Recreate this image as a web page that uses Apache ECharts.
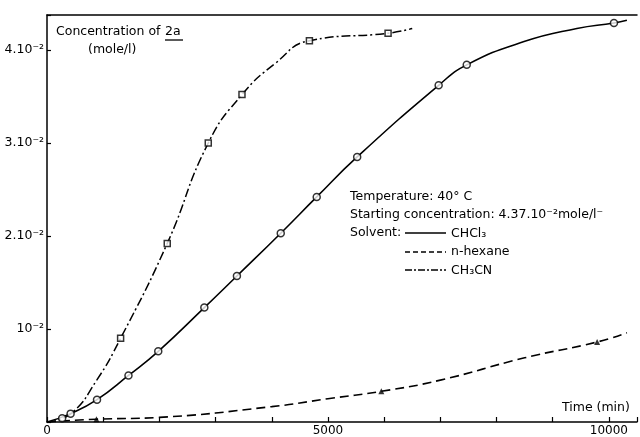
<!DOCTYPE html>
<html>
<head>
<meta charset="utf-8">
<script src="https://cdn.jsdelivr.net/npm/echarts@6/dist/echarts.min.js"></script>
<style>html,body{margin:0;padding:0;background:#fff}#c{width:640px;height:437px}</style>
</head>
<body>
<div id="c"></div>
<script>
// Time (min)
var xTicks = [0, 5000, 10000];
var yTickLabels = ['', '10⁻²', '2.10⁻²', '3.10⁻²', '4.10⁻²'];

// CHCl3 (solid, open circles) — values in units of 1e-2 mole/l
var chclCurveX = [0, 420, 890, 1450, 1980, 2800, 3380, 4160, 4800, 5520, 6970, 7470, 8490, 9430, 10090, 10320];
var chclCurveY = [0, 0.09, 0.24, 0.50, 0.76, 1.23, 1.57, 2.03, 2.42, 2.85, 3.62, 3.84, 4.09, 4.23, 4.29, 4.32];
var chclMarkX = [270, 420, 890, 1450, 1980, 2800, 3380, 4160, 4800, 5520, 6970, 7470, 10090];
var chclMarkY = [0.04, 0.09, 0.24, 0.50, 0.76, 1.23, 1.57, 2.03, 2.42, 2.85, 3.62, 3.84, 4.29];

// n-hexane (dashed, filled triangles)
var hexCurveX = [0, 880, 2000, 4000, 5000, 5950, 7000, 8500, 9790, 10320];
var hexCurveY = [0, 0.03, 0.05, 0.165, 0.25, 0.33, 0.45, 0.69, 0.86, 0.96];
var hexMarkX = [880, 5950, 9790];
var hexMarkY = [0.03, 0.33, 0.86];

// CH3CN (dash-dot, open squares)
var ch3cnCurveX = [0, 425, 885, 1310, 2140, 2870, 3470, 4070, 4670, 6070, 6500];
var ch3cnCurveY = [0, 0.09, 0.45, 0.90, 1.92, 3.00, 3.52, 3.86, 4.10, 4.18, 4.23];
var ch3cnMarkX = [1310, 2140, 2870, 3470, 4670, 6070];
var ch3cnMarkY = [0.90, 1.92, 3.00, 3.52, 4.10, 4.18];

function zip(a, b) { return a.map(function (v, i) { return [v, b[i]]; }); }

var FONT = 'DejaVu Sans';
var TF = '12.5px "DejaVu Sans"';
var chart = echarts.init(document.getElementById('c'), null, {renderer: 'canvas'});

chart.setOption({
  animation: false,
  backgroundColor: '#fff',
  grid: {left: 47, right: 0, top: 15, bottom: 15, containLabel: false},
  xAxis: [{
    type: 'value', min: 0, max: 10500, interval: 1000,
    axisLine: {show: true, lineStyle: {color: '#000', width: 1.5}},
    axisTick: {show: true, inside: true, length: 5, lineStyle: {color: '#000', width: 1.2}},
    axisLabel: {
      color: '#000', fontFamily: FONT, fontSize: 12, margin: 3,
      formatter: function (v) { return xTicks.indexOf(v) >= 0 ? String(v) : ''; }
    },
    splitLine: {show: false}
  }, {
    type: 'value', position: 'top', min: 0, max: 10500,
    axisLine: {show: true, lineStyle: {color: '#000', width: 1.5}},
    axisTick: {show: false}, axisLabel: {show: false}, splitLine: {show: false}
  }],
  yAxis: {
    type: 'value', min: 0, max: 4.376, interval: 1,
    axisLine: {show: true, lineStyle: {color: '#000', width: 1.5}},
    axisTick: {show: true, inside: true, length: 4, lineStyle: {color: '#000', width: 1.2}},
    axisLabel: {
      color: '#000', fontFamily: FONT, fontSize: 12.5, margin: 3,
      formatter: function (v) { return (Math.abs(v - Math.round(v)) < 1e-6 && yTickLabels[Math.round(v)]) || ''; }
    },
    splitLine: {show: false}
  },
  series: [
    {type: 'line', data: zip(chclCurveX, chclCurveY), smooth: 0.5, showSymbol: false,
     lineStyle: {color: '#000', width: 1.6}, z: 2},
    {type: 'scatter', data: zip(chclMarkX, chclMarkY), symbol: 'circle', symbolSize: 7,
     itemStyle: {color: '#fff', borderColor: '#000', borderWidth: 1.5}, z: 3},
    {type: 'line', data: zip(hexCurveX, hexCurveY), smooth: 0.5, showSymbol: false,
     lineStyle: {color: '#000', width: 1.6, type: [9, 5]}, z: 2},
    {type: 'scatter', data: zip(hexMarkX, hexMarkY), symbol: 'triangle', symbolSize: 6,
     itemStyle: {color: '#000'}, z: 3},
    {type: 'line', data: zip(ch3cnCurveX, ch3cnCurveY), smooth: 0.5, showSymbol: false,
     lineStyle: {color: '#000', width: 1.5, type: [9, 3, 2, 3]}, z: 2},
    {type: 'scatter', data: zip(ch3cnMarkX, ch3cnMarkY), symbol: 'rect', symbolSize: 6,
     itemStyle: {color: '#fff', borderColor: '#000', borderWidth: 1.5}, z: 3}
  ],
  graphic: [
    {type: 'text', x: 56, y: 32, style: {text: 'Concentration of', font: TF, fill: '#000', verticalAlign: 'middle'}},
    {type: 'text', x: 165, y: 32, style: {text: '2a', font: TF, fill: '#000', verticalAlign: 'middle'}},
    {type: 'line', shape: {x1: 165, y1: 40, x2: 183, y2: 40}, style: {stroke: '#000', lineWidth: 1.3}},
    {type: 'text', x: 88, y: 50, style: {text: '(mole/l)', font: TF, fill: '#000', verticalAlign: 'middle'}},

    {type: 'text', x: 350, y: 197, style: {text: 'Temperature: 40° C', font: TF, fill: '#000', verticalAlign: 'middle'}},
    {type: 'text', x: 350, y: 215, style: {text: 'Starting concentration: 4.37.10⁻²mole/l⁻', font: TF, fill: '#000', verticalAlign: 'middle'}},
    {type: 'text', x: 350, y: 233, style: {text: 'Solvent:', font: TF, fill: '#000', verticalAlign: 'middle'}},
    {type: 'line', shape: {x1: 405, y1: 233, x2: 446, y2: 233}, style: {stroke: '#000', lineWidth: 1.4}},
    {type: 'text', x: 451, y: 234, style: {text: 'CHCl₃', font: TF, fill: '#000', verticalAlign: 'middle'}},
    {type: 'line', shape: {x1: 405, y1: 252, x2: 446, y2: 252}, style: {stroke: '#000', lineWidth: 1.4, lineDash: [5, 3]}},
    {type: 'text', x: 451, y: 252, style: {text: 'n-hexane', font: TF, fill: '#000', verticalAlign: 'middle'}},
    {type: 'line', shape: {x1: 405, y1: 270, x2: 446, y2: 270}, style: {stroke: '#000', lineWidth: 1.4, lineDash: [7, 2, 2, 2]}},
    {type: 'text', x: 451, y: 271, style: {text: 'CH₃CN', font: TF, fill: '#000', verticalAlign: 'middle'}},

    {type: 'text', x: 562, y: 408, style: {text: 'Time (min)', font: TF, fill: '#000', verticalAlign: 'middle'}}
  ]
});
</script>
</body>
</html>
